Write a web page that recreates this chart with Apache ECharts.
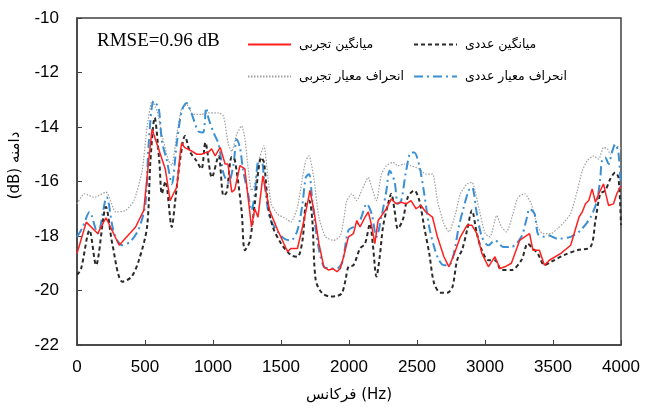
<!DOCTYPE html>
<html><head><meta charset="utf-8">
<script src="https://cdn.jsdelivr.net/npm/echarts@6/dist/echarts.min.js"></script>
<style>html,body{margin:0;padding:0;background:#fff}#c{width:645px;height:408px}</style>
</head><body><div id="c"></div>
<script>
const xTicks = [0, 500, 1000, 1500, 2000, 2500, 3000, 3500, 4000];
const yTicks = [-22, -20, -18, -16, -14, -12, -10];
const names = ['میانگین تجربی', 'میانگین عددی', 'انحراف معیار تجربی', 'انحراف معیار عددی'];

const redHz = [0,68,152,213,310,431,491,527,552,605,649,685,709,735,760,770,790,842,880,915,944,963,990,1016,1053,1089,1110,1138,1160,1198,1234,1258,1283,1307,1331,1367,1379,1416,1476,1549,1573,1621,1658,1694,1713,1742,1779,1815,1851,1880,1912,1936,1960,1996,2033,2057,2081,2118,2142,2166,2190,2214,2250,2275,2311,2347,2384,2420,2456,2493,2529,2565,2614,2650,2698,2735,2771,2819,2868,2904,2940,2977,3025,3073,3110,3146,3194,3255,3291,3328,3352,3400,3437,3473,3558,3630,3691,3715,3739,3763,3788,3812,3836,3872,3890,3909,3945,3969,4000];
const redDb = [-18.64,-17.49,-17.91,-17.33,-18.34,-17.67,-17.06,-15.24,-14.08,-14.88,-15.54,-16.70,-16.45,-16.2,-14.9,-14.57,-14.75,-14.88,-15.0,-15.0,-14.94,-14.94,-14.8,-15.06,-14.75,-15.36,-15.36,-16.39,-16.3,-15.42,-15.54,-16.58,-17.67,-17.0,-17.31,-15.79,-15.73,-17.06,-17.79,-18.58,-18.46,-18.46,-17.67,-16.82,-16.33,-17.06,-18.28,-19.13,-19.25,-19.2,-19.31,-19.19,-18.76,-18.03,-17.91,-17.43,-17.67,-17.31,-17.12,-17.61,-18.28,-17.43,-17.18,-17.0,-16.64,-16.82,-16.76,-16.82,-16.70,-17.0,-16.88,-17.12,-17.31,-18.03,-18.76,-19.13,-18.70,-18.03,-17.61,-17.61,-17.91,-18.64,-19.13,-18.76,-19.19,-19.13,-19.0,-18.16,-18.03,-17.91,-18.52,-18.52,-19.07,-18.89,-18.64,-18.34,-17.31,-17.12,-16.82,-16.70,-16.27,-16.76,-16.45,-16.09,-16.5,-16.88,-16.82,-16.45,-16.15];

const blackHz = [0,30,92,140,213,260,334,400,455,515,540,571,605,624,650,697,720,757,794,830,878,915,944,992,1041,1077,1100,1138,1160,1210,1234,1270,1307,1355,1375,1404,1440,1501,1573,1621,1658,1682,1706,1730,1755,1803,1864,1912,1948,1975,1996,2033,2081,2118,2154,2175,2202,2226,2250,2287,2311,2335,2359,2396,2432,2480,2517,2553,2590,2626,2674,2722,2759,2795,2832,2868,2904,2940,2977,3025,3073,3122,3194,3267,3315,3352,3388,3437,3485,3582,3679,3776,3812,3848,3884,3921,3957,3981,4000];
const blackDb = [-19.43,-19.2,-17.79,-19.07,-16.94,-18.3,-19.68,-19.5,-18.89,-17.67,-15.24,-13.66,-15.24,-16.45,-16.0,-17.67,-16.8,-15.24,-14.33,-14.9,-15.24,-15.54,-14.57,-15.85,-15.06,-16.52,-16.4,-15.1,-15.2,-17.06,-18.52,-18.2,-16.82,-15.12,-15.3,-16.82,-17.67,-18.28,-18.70,-18.76,-18.16,-16.82,-16.70,-17.4,-19.61,-20.10,-20.22,-20.2,-20.1,-19.6,-19.13,-19.07,-18.46,-18.28,-17.55,-18.3,-19.49,-18.76,-17.67,-16.82,-16.45,-17.06,-17.73,-17.4,-16.58,-16.33,-16.7,-17.67,-18.64,-19.74,-20.08,-20.08,-19.9,-18.89,-18.5,-17.79,-17.06,-17.91,-18.52,-18.89,-18.89,-19.25,-19.25,-18.89,-18.28,-18.46,-18.64,-19.07,-18.95,-18.70,-18.52,-18.40,-17.43,-16.45,-16.33,-15.91,-15.67,-15.85,-17.6];

const blueHz = [0,40,92,152,218,273,334,394,455,503,527,564,600,624,661,697,733,770,806,842,891,927,950,968,1004,1041,1077,1113,1150,1174,1198,1222,1258,1283,1307,1331,1355,1379,1416,1476,1525,1573,1621,1658,1682,1706,1730,1767,1815,1864,1912,1948,1960,1996,2033,2081,2130,2166,2202,2238,2275,2299,2335,2359,2384,2420,2456,2480,2517,2553,2590,2626,2662,2698,2735,2771,2807,2844,2880,2904,2940,2977,3025,3073,3134,3194,3267,3303,3328,3364,3388,3425,3461,3534,3630,3703,3776,3824,3848,3860,3884,3909,3933,3957,3981,4000];
const blueDb = [-18.03,-17.7,-17.12,-17.91,-16.58,-17.91,-18.34,-18.2,-17.73,-16.82,-14.63,-13.05,-13.3,-14.51,-15.24,-16.09,-14.63,-13.42,-13.12,-13.5,-14.15,-14.2,-13.3,-13.7,-14.2,-14.63,-15.7,-16.05,-15.4,-14.45,-14.75,-15.61,-16.45,-17.06,-16.45,-15.24,-15.2,-16.09,-17.31,-17.85,-18.10,-18.16,-17.79,-16.82,-15.85,-15.73,-16.7,-18.16,-19.13,-19.19,-19.19,-19.0,-18.76,-17.79,-17.67,-17.43,-16.82,-17.18,-18.03,-17.31,-16.33,-15.61,-16.0,-16.82,-16.7,-15.61,-14.94,-14.94,-15.42,-16.45,-17.67,-18.40,-18.89,-19.07,-19.07,-18.64,-17.67,-16.94,-16.33,-16.21,-17.18,-18.03,-18.34,-18.16,-18.40,-18.40,-18.03,-17.43,-17.0,-17.18,-17.91,-18.03,-17.97,-18.10,-18.03,-17.79,-17.31,-16.70,-15.85,-15.24,-15.12,-15.36,-14.94,-14.63,-14.94,-16.3];

const grayHz = [0,56,128,213,286,358,419,479,515,552,588,624,673,697,733,770,806,854,915,963,1041,1077,1113,1138,1174,1210,1234,1258,1283,1307,1343,1374,1404,1428,1476,1537,1573,1621,1658,1682,1706,1742,1779,1827,1888,1936,1960,1984,2021,2057,2093,2142,2166,2202,2238,2275,2323,2359,2408,2456,2517,2565,2614,2650,2698,2735,2783,2819,2868,2904,2953,3001,3037,3086,3122,3158,3206,3243,3291,3340,3388,3425,3485,3534,3582,3630,3679,3715,3751,3800,3836,3872,3900,3921,3957,3993,4000];
const grayDb = [-16.82,-16.45,-16.58,-16.39,-17.12,-17.06,-16.70,-15.61,-14.02,-13.05,-13.4,-14.27,-15.24,-15.4,-14.3,-13.30,-13.18,-13.54,-13.54,-13.48,-13.48,-13.6,-14.63,-14.9,-14.27,-13.96,-14.4,-15.48,-16.33,-16.1,-15.12,-14.69,-15.85,-16.82,-17.2,-17.37,-17.49,-16.94,-15.85,-15.24,-15.06,-15.9,-17.31,-18.03,-18.16,-18.0,-17.43,-16.70,-16.45,-16.7,-16.33,-15.85,-16.2,-16.7,-15.73,-15.42,-15.3,-15.42,-15.36,-15.42,-15.54,-15.73,-15.73,-16.70,-17.55,-17.85,-17.18,-16.45,-16.09,-16.03,-16.94,-17.91,-18.03,-17.25,-17.67,-17.85,-17.18,-16.58,-16.45,-16.82,-17.67,-17.91,-17.91,-17.73,-17.49,-17.18,-16.33,-15.61,-15.24,-15.06,-15.18,-14.75,-14.8,-15.0,-14.69,-14.75,-14.8];

const pairs = (xs, ys) => xs.map((x, i) => [x, ys[i]]);
const tickFont = 'Liberation Sans';
const faFont = 'DejaVu Sans';
const frame = '#404040';

const chart = echarts.init(document.getElementById('c'), null, {renderer: 'canvas'});
const legendBase = {
  selectedMode: false, itemWidth: 43, itemHeight: 12, itemGap: 0,
  itemStyle: {opacity: 0},
  textStyle: {fontFamily: faFont, fontSize: 12.5, color: '#000', padding: [0, 0, 0, 3]}
};
chart.setOption({
  animation: false,
  grid: {left: 70, right: 24, top: 18, bottom: 61, show: true, borderColor: frame, borderWidth: 1.5, containLabel: false},
  graphic: [{type: 'text', left: 97, top: 32, style: {text: 'RMSE=0.96 dB', font: '19px "Liberation Serif"', fill: '#000'}}],
  legend: [
    Object.assign({}, legendBase, {data: [names[0]], left: 242, top: 33}),
    Object.assign({}, legendBase, {data: [names[1]], left: 408, top: 33}),
    Object.assign({}, legendBase, {data: [names[2]], left: 242, top: 65}),
    Object.assign({}, legendBase, {data: [names[3]], left: 408, top: 65})
  ],
  xAxis: {
    type: 'value', min: xTicks[0], max: xTicks[xTicks.length - 1], interval: 500,
    name: 'فرکانس (Hz)', nameLocation: 'middle', nameGap: 43,
    nameTextStyle: {fontFamily: faFont, fontSize: 15, color: '#000'},
    axisLine: {lineStyle: {color: frame, width: 1.5}},
    axisTick: {inside: true, length: 5, lineStyle: {color: frame}},
    axisLabel: {fontFamily: tickFont, fontSize: 17, color: '#000', margin: 14, formatter: v => String(v)},
    splitLine: {show: false}
  },
  yAxis: {
    type: 'value', min: yTicks[0], max: yTicks[yTicks.length - 1], interval: 2,
    name: '(dB) دامنه', nameLocation: 'middle', nameRotate: 90, nameGap: 54,
    nameTextStyle: {fontFamily: faFont, fontSize: 15, color: '#000', padding: [0, 0, 0, 32]},
    axisLine: {lineStyle: {color: frame, width: 1.5}},
    axisTick: {inside: true, length: 5, lineStyle: {color: frame}},
    axisLabel: {fontFamily: tickFont, fontSize: 17, color: '#000', margin: 18, formatter: v => String(v)},
    splitLine: {show: false}
  },
  series: [
    {name: names[2], type: 'line', symbol: 'none', smooth: 0.2, data: pairs(grayHz, grayDb),
     lineStyle: {color: '#a0a0a0', width: 1.2, type: [1.5, 1.5]}, itemStyle: {color: '#a0a0a0'}},
    {name: names[3], type: 'line', symbol: 'none', smooth: 0.3, data: pairs(blueHz, blueDb),
     lineStyle: {color: '#3b8fd4', width: 2, type: [9, 4, 2, 4]}, itemStyle: {color: '#3b8fd4'}},
    {name: names[1], type: 'line', symbol: 'none', smooth: 0.3, data: pairs(blackHz, blackDb),
     lineStyle: {color: '#2a2a2a', width: 2, type: [4, 3]}, itemStyle: {color: '#2a2a2a'}},
    {name: names[0], type: 'line', symbol: 'none', smooth: false, data: pairs(redHz, redDb),
     lineStyle: {color: '#ff2020', width: 1.5}, itemStyle: {color: '#ff2020'}}
  ]
});
</script></body></html>
